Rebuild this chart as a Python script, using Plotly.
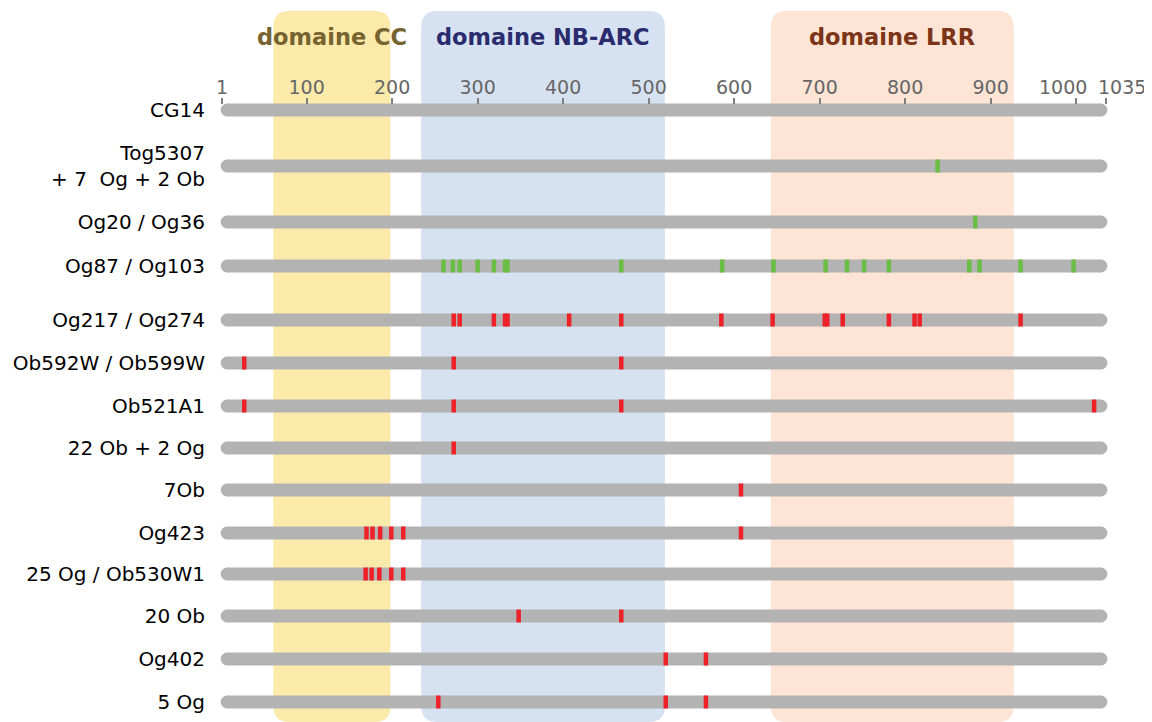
import plotly.graph_objects as go

# ---------------- data ----------------
labels = ["CG14", "Tog5307<br>+ 7\u00a0 Og + 2 Ob", "Og20 / Og36", "Og87 / Og103",
          "Og217 / Og274", "Ob592W / Ob599W", "Ob521A1", "22 Ob + 2 Og", "7Ob",
          "Og423", "25 Og / Ob530W1", "20 Ob", "Og402", "5 Og"]
seq_start = 1
seq_end = 1035

green_marks = [
    [],
    [838],
    [882],
    [260, 271, 279, 300, 319, 332, 335, 468, 586, 646, 707, 732, 752, 781, 875, 887, 935, 997],
    [], [], [], [], [], [], [], [], [], [],
]
red_marks = [
    [], [], [], [],
    [272, 279, 319, 332, 335, 407, 468, 585, 645, 706, 709, 727, 781, 811, 817, 935],
    [27, 272, 468],
    [27, 272, 468, 1021],
    [272],
    [608],
    [170, 177, 186, 199, 213, 608],
    [169, 176, 185, 199, 213],
    [348, 468],
    [520, 567],
    [254, 520, 567],
]

domain_names = ["domaine CC", "domaine NB-ARC", "domaine LRR"]
domain_start = [61, 234, 643]
domain_end = [198, 519, 927]

tick_vals = [1, 100, 200, 300, 400, 500, 600, 700, 800, 900, 1000, 1035]
tick_text = ["1", "100", "200", "300", "400", "500", "600", "700", "800", "900",
             "1000", "1035"]
# the two last labels are nudged apart (drawn as annotations)
shifted_ticks = {1000: -13, 1035: 16}

# ---------------- layout constants (page has an 8px body margin) ----------------
OFF = 8
W, H = 1152 - OFF, 722 - OFF
row_y = [v - OFF for v in [110, 166, 222, 266, 320, 363, 406, 448, 490, 533, 574, 616, 659, 702]]
px_per_unit = 0.855
x_px1 = 222 - OFF          # pixel of position 1
L, R = 212 - OFF, 1122 - OFF
x0 = 1 + (L - x_px1) / px_per_unit
x1 = 1 + (R - x_px1) / px_per_unit

domain_fill = ["#fceaaa", "#d6e2f2", "#fde4d5"]
domain_font = ["#766330", "#2b2c6e", "#7b3418"]
GRAY = "#b3b3b3"
GREEN = "#6abd45"
RED = "#ee2128"
BAR_W = 13
cap_units = 6
TICK_FONT = dict(family="DejaVu Sans", size=19, color="#666666")

fig = go.Figure()

# bars
for y in row_y:
    fig.add_trace(go.Scatter(
        x=[seq_start + cap_units, seq_end - cap_units], y=[y, y], mode="lines+markers",
        line=dict(color=GRAY, width=BAR_W),
        marker=dict(size=BAR_W, color=GRAY, line=dict(width=0)),
        hoverinfo="skip", showlegend=False))

# marks
def add_marks(marks, color):
    xs, ys = [], []
    for y, ms in zip(row_y, marks):
        for m in ms:
            xs.append(m)
            ys.append(y)
    fig.add_trace(go.Scatter(
        x=xs, y=ys, mode="markers",
        marker=dict(symbol="line-ns", size=BAR_W / 1.4, color=color,
                    line=dict(color=color, width=4.5)),
        hoverinfo="skip", showlegend=False))

add_marks(green_marks, GREEN)
add_marks(red_marks, RED)

# domain boxes
top, bottom, rad = 11 - OFF, 722 - OFF, 16
rx = rad / px_per_unit
shapes = []
for s, e, c in zip(domain_start, domain_end, domain_fill):
    p = (f"M{s+rx},{top} L{e-rx},{top} Q{e},{top} {e},{top+rad} "
         f"L{e},{bottom-rad} Q{e},{bottom} {e-rx},{bottom} "
         f"L{s+rx},{bottom} Q{s},{bottom} {s},{bottom-rad} "
         f"L{s},{top+rad} Q{s},{top} {s+rx},{top} Z")
    shapes.append(dict(type="path", path=p, xref="x", yref="y",
                       fillcolor=c, line=dict(width=0), layer="below"))

annotations = []
for n, s, e, c in zip(domain_names, domain_start, domain_end, domain_font):
    annotations.append(dict(x=(s + e) / 2, y=37 - OFF, xref="x", yref="y", text=n,
                            showarrow=False,
                            font=dict(family="DejaVu Sans", size=22.5, color=c,
                                      weight="bold")))

shown_text = []
for v, t in zip(tick_vals, tick_text):
    if v in shifted_ticks:
        shown_text.append("")
        annotations.append(dict(x=v, y=87 - OFF, xref="x", yref="y", text=t,
                                xshift=shifted_ticks[v], showarrow=False,
                                font=TICK_FONT))
    else:
        shown_text.append(t)

fig.update_layout(
    width=W, height=H,
    margin=dict(l=L, r=W - R, t=0, b=0, pad=0),
    plot_bgcolor="white", paper_bgcolor="white",
    shapes=shapes, annotations=annotations,
    xaxis=dict(range=[x0, x1], side="top", anchor="free", position=1 - (104 - OFF) / H,
               tickvals=tick_vals, ticktext=shown_text, tickangle=0,
               ticks="outside", ticklen=6, tickwidth=1.5, tickcolor="#808080",
               ticklabelstandoff=-4,
               showgrid=False, zeroline=False, showline=False,
               tickfont=TICK_FONT),
    yaxis=dict(range=[H, 0], tickvals=row_y, ticktext=labels,
               showgrid=False, zeroline=False, showline=False, ticks="",
               ticklabelstandoff=6,
               tickfont=dict(family="DejaVu Sans", size=20, color="black")),
)

fig.write_html("out.html")
